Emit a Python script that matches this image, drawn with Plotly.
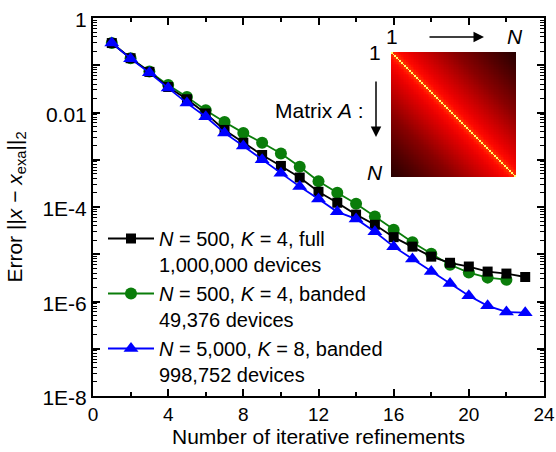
import numpy as np
import plotly.graph_objects as go

# ---------------- data ----------------
n_full = list(range(1, 24))
err_full = [0.295, 0.141, 0.0724, 0.0347, 0.0191, 0.00955, 0.00427, 0.00229, 0.00126, 7.4e-4,
            4.2e-4, 2.1e-4, 1.23e-4, 6.9e-5, 4.2e-5, 2.3e-5, 1.45e-5, 8.9e-6, 6.6e-6, 5.5e-6,
            4.3e-6, 3.9e-6, 3.3e-6]
n_band = list(range(1, 23))
err_band = [0.295, 0.141, 0.074, 0.038, 0.0214, 0.0112, 0.0063, 0.0037, 0.00229, 0.00135,
            7.1e-4, 3.5e-4, 2.0e-4, 1.17e-4, 6.3e-5, 3.3e-5, 1.8e-5, 1.02e-5, 6.0e-6, 4.1e-6,
            3.2e-6, 2.9e-6]
n_big = list(range(1, 24))
err_big = [0.295, 0.138, 0.069, 0.033, 0.0158, 0.0081, 0.0037, 0.00195, 0.0010, 5.2e-4,
           2.7e-4, 1.48e-4, 7.9e-5, 5.6e-5, 3.0e-5, 1.45e-5, 7.9e-6, 4.3e-6, 2.4e-6, 1.32e-6,
           8.1e-7, 6.0e-7, 5.8e-7]

names = ["<i>N</i> = 500, <i>K</i> = 4, full<br>1,000,000 devices",
         "<i>N</i> = 500, <i>K</i> = 4, banded<br>49,376 devices",
         "<i>N</i> = 5,000, <i>K</i> = 8, banded<br>998,752 devices"]

x_ticks = [0, 4, 8, 12, 16, 20, 24]
y_tickvals = [1, 1e-1, 1e-2, 1e-3, 1e-4, 1e-5, 1e-6, 1e-7, 1e-8]
y_ticktext = ["1", "", "0.01", "", "1E-4", "", "1E-6", "", "1E-8"]

# inset matrix illustration size
M = 75

# ---------------- figure ----------------
W, H = 556, 452
ML, MR, MT, MB = 93, 12, 18, 56
PW, PH = W - ML - MR, H - MT - MB

def px(xp):
    return (xp - ML) / PW

def py(yp):
    return (H - MB - yp) / PH

FONT = "Liberation Sans, Arial, sans-serif"
FS = 21
FX = 19
FL = 20

fig = go.Figure()

fig.add_trace(go.Scatter(x=n_band, y=err_band, mode="lines+markers", name=names[1],
                         line=dict(color="#0a7d0a", width=1.8),
                         marker=dict(symbol="circle", size=12, color="#0a7d0a"),
                         legendrank=2))
fig.add_trace(go.Scatter(x=n_full, y=err_full, mode="lines+markers", name=names[0],
                         line=dict(color="black", width=1.8),
                         marker=dict(symbol="square", size=10, color="black"),
                         legendrank=1))
fig.add_trace(go.Scatter(x=n_big, y=err_big, mode="lines+markers", name=names[2],
                         line=dict(color="#0000ff", width=1.8),
                         marker=dict(symbol="triangle-up", size=13, color="#0000ff"),
                         legendrank=3))

# inset heatmap
idx = np.arange(M)
z = np.abs(idx[:, None] - idx[None, :])
d1 = 1.0 / (M - 1)
fig.add_trace(go.Heatmap(z=z, xaxis="x2", yaxis="y2", showscale=False, hoverinfo="skip",
                         zmin=0, zmax=M - 1,
                         colorscale=[[0, "#ffff70"], [d1 * 0.999, "#ffc030"], [d1, "#ff3000"],
                                     [0.06, "#ff0800"], [0.15, "#e80000"], [0.3, "#c00000"],
                                     [0.5, "#8a0000"], [0.75, "#560000"], [1.0, "#280000"]]))

axis_common = dict(showline=True, linecolor="black", linewidth=2, mirror="allticks",
                   ticks="inside", ticklen=7, tickwidth=1.5, tickcolor="black",
                   showgrid=False, zeroline=False, automargin=False,
                   ticklabeloverflow="allow")

fig.update_layout(
    width=W, height=H,
    margin=dict(l=ML, r=MR, t=MT, b=MB, autoexpand=False),
    paper_bgcolor="white", plot_bgcolor="white",
    font=dict(family=FONT, size=FS, color="black"),
    xaxis=dict(range=[0, 24], tickvals=x_ticks,
               tickfont=dict(family=FONT, size=FX, color="black"),
               minor=dict(ticks="inside", ticklen=4, tickwidth=1.5, tickcolor="black", dtick=2, tick0=0),
               title=dict(text="Number of iterative refinements", font=dict(size=FS), standoff=5),
               **axis_common),
    yaxis=dict(type="log", range=[-8, 0], tickvals=y_tickvals, ticktext=y_ticktext,
               tickfont=dict(family=FONT, size=FS, color="black"), ticklabelshift=2,
               minor=dict(ticks="inside", ticklen=4, tickwidth=1.2, tickcolor="black", dtick="D1"),
               title=dict(text="Error ||<i>x</i> \u2212 <i>x</i><sub>exa</sub>||<sub>2</sub>",
                          font=dict(size=FS), standoff=14),
               **axis_common),
    xaxis2=dict(domain=[px(391), px(516)], range=[-0.5, M - 0.5], visible=False, anchor="y2"),
    yaxis2=dict(domain=[py(177), py(52)], range=[M - 0.5, -0.5], visible=False, anchor="x2"),
    legend=dict(x=px(103), y=py(219), xanchor="left", yanchor="top", valign="top",
                bgcolor="rgba(0,0,0,0)", itemwidth=46, tracegroupgap=0,
                font=dict(family=FONT, size=FL, color="black")),
    showlegend=True,
)

ann = [
    dict(text="Matrix <i>A</i> :", x=px(366), y=py(110), xanchor="right", yanchor="middle"),
    dict(text="1", x=px(392), y=py(37), xanchor="center", yanchor="middle"),
    dict(text="<i>N</i>", x=px(515), y=py(37), xanchor="center", yanchor="middle"),
    dict(text="1", x=px(375), y=py(53), xanchor="center", yanchor="middle"),
    dict(text="<i>N</i>", x=px(375), y=py(173), xanchor="center", yanchor="middle"),
]
for a in ann:
    fig.add_annotation(xref="paper", yref="paper", showarrow=False,
                       font=dict(family=FONT, size=FS, color="black"), **a)

# arrows
fig.add_annotation(xref="paper", yref="paper", x=px(484), y=py(37), ax=-56, ay=0,
                   text="", showarrow=True,
                   arrowhead=2, arrowsize=1.4, arrowwidth=1.5, arrowcolor="black")
fig.add_annotation(xref="paper", yref="paper", x=px(376), y=py(137), ax=0, ay=-57,
                   text="", showarrow=True,
                   arrowhead=2, arrowsize=1.4, arrowwidth=1.5, arrowcolor="black")

fig.write_html("out.html", config={"displayModeBar": False},
               post_script="document.body.style.margin='0';document.body.style.overflow='hidden';")
